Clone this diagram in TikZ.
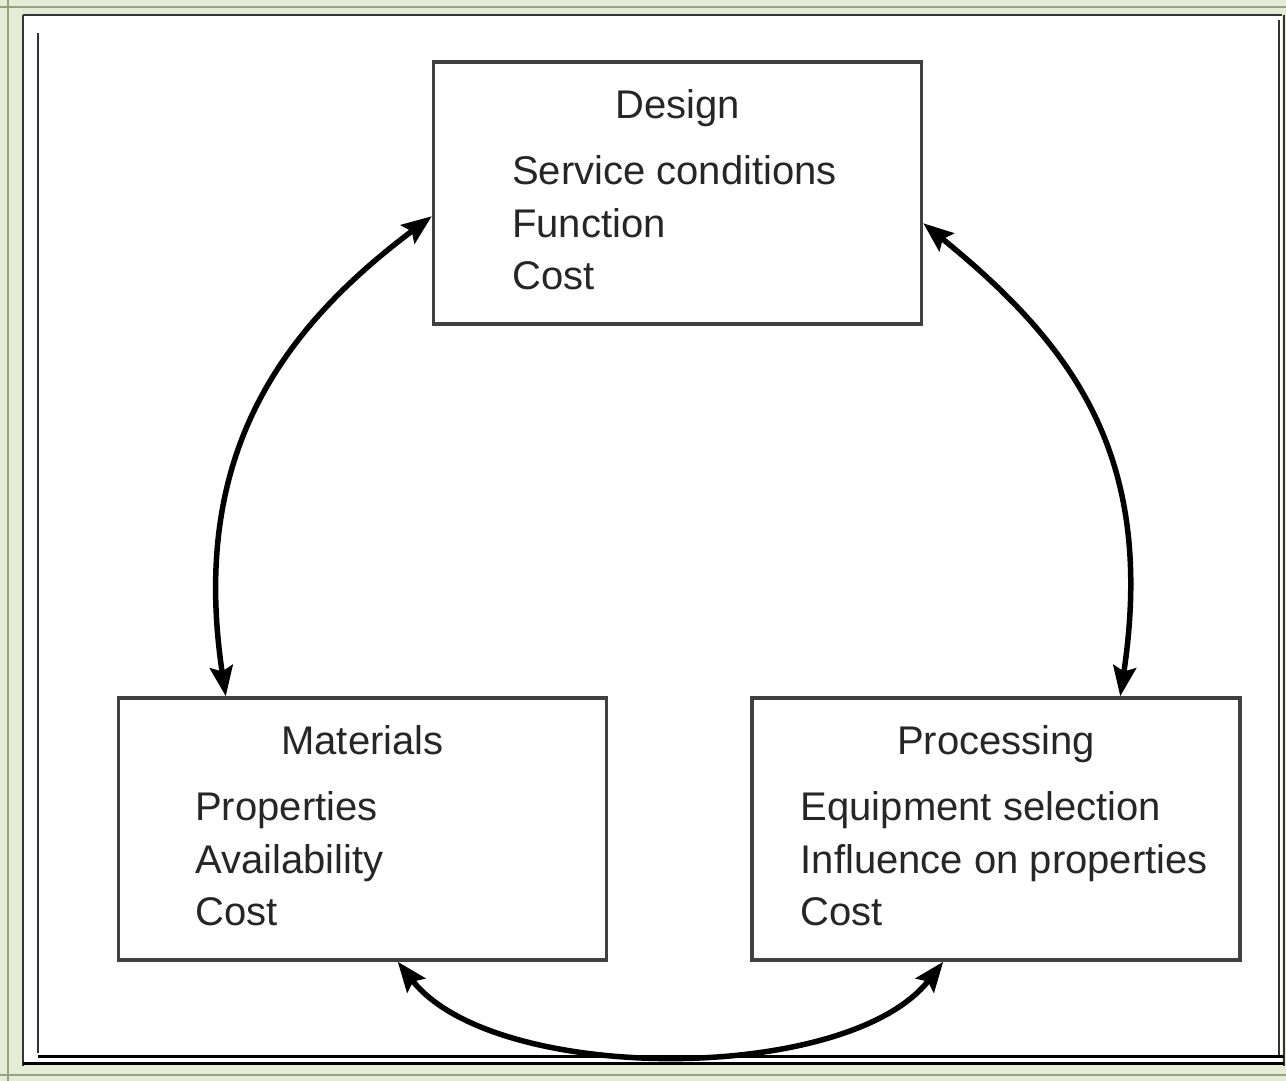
\documentclass[tikz,border=0pt]{standalone}
\usepackage{fontspec}
\setmainfont{Liberation Sans}
\usetikzlibrary{arrows.meta, calc}

\definecolor{slide}{RGB}{229,235,212}
\definecolor{rule}{RGB}{150,160,130}

\tikzset{
    box/.style = {draw=black!75, line width=3.5pt, minimum width=488pt, minimum height=262pt, inner sep=0pt},
    head/.style = {anchor=base, font=\fontsize{40}{48}\selectfont, text=black!85},
    item/.style = {anchor=base west, font=\fontsize{40}{48}\selectfont, text=black!85},
    link/.style = {line width=5.5pt, {Stealth[length=30pt, width=23pt, inset=5pt]}-{Stealth[length=30pt, width=23pt, inset=5pt]}}
}

\begin{document}
\begin{tikzpicture}[x=1pt, y=-1pt]
    \useasboundingbox (0,0) rectangle (1286,1081);
    % slide frame
    \fill[slide] (0,0) rectangle (1286,1081);
    \fill[white] (22,15) rectangle (1282,1062);
    \draw[rule, line width=2pt] (8,0) -- (8,1081) (0,7) -- (1286,7) (0,1075) -- (1286,1075);
    \draw[black!80, line width=2.5pt] (23,15) -- (23,1066) (23,15) -- (1282,15);
    \draw[black!80, line width=1.5pt] (38,33) -- (38,1053) (1279,20) -- (1279,1056);
    \draw[black!80, line width=2pt] (1284,15) -- (1284,1066);
    \draw[black, line width=3pt] (38,1056) -- (1284,1056) (23,1063) -- (1284,1063);
    % boxes
    \node[box] (des) at (677.5,193) {};
    \node[box] (mat) at (362.5,829) {};
    \node[box] (pro) at (996,829) {};
    \node[head] (desT) at ($(des.north)+(0,58)$) {Design};
    \node[head] (matT) at ($(mat.north)+(0,58)$) {Materials};
    \node[head] (proT) at ($(pro.north)+(0,58)$) {Processing};
    \foreach \t [count=\i] in {Service conditions, Function, Cost}
        \node[item] (des\i) at ($(des.north west)+(77,72+52.5*\i)$) {\t};
    \foreach \t [count=\i] in {Properties, Availability, Cost}
        \node[item] (mat\i) at ($(mat.north west)+(75,72+52.5*\i)$) {\t};
    \foreach \t [count=\i] in {Equipment selection, Influence on properties, Cost}
        \node[item] (pro\i) at ($(pro.north west)+(47,72+52.5*\i)$) {\t};
    % links
    \draw[link] ($(mat.north west)+(109,0)$) .. controls +(-36,-240) and +(-152,114) .. ($(des.north west)+(0,156)$);
    \draw[link] ($(pro.north west)+(370,0)$) .. controls +(36,-240) and +(150,122) .. ($(des.north east)+(0,163)$);
    \draw[link] ($(mat.south west)+(281,0)$) .. controls +(96,123) and +(-96,123) .. ($(pro.south west)+(193,0)$);
\end{tikzpicture}
\end{document}
